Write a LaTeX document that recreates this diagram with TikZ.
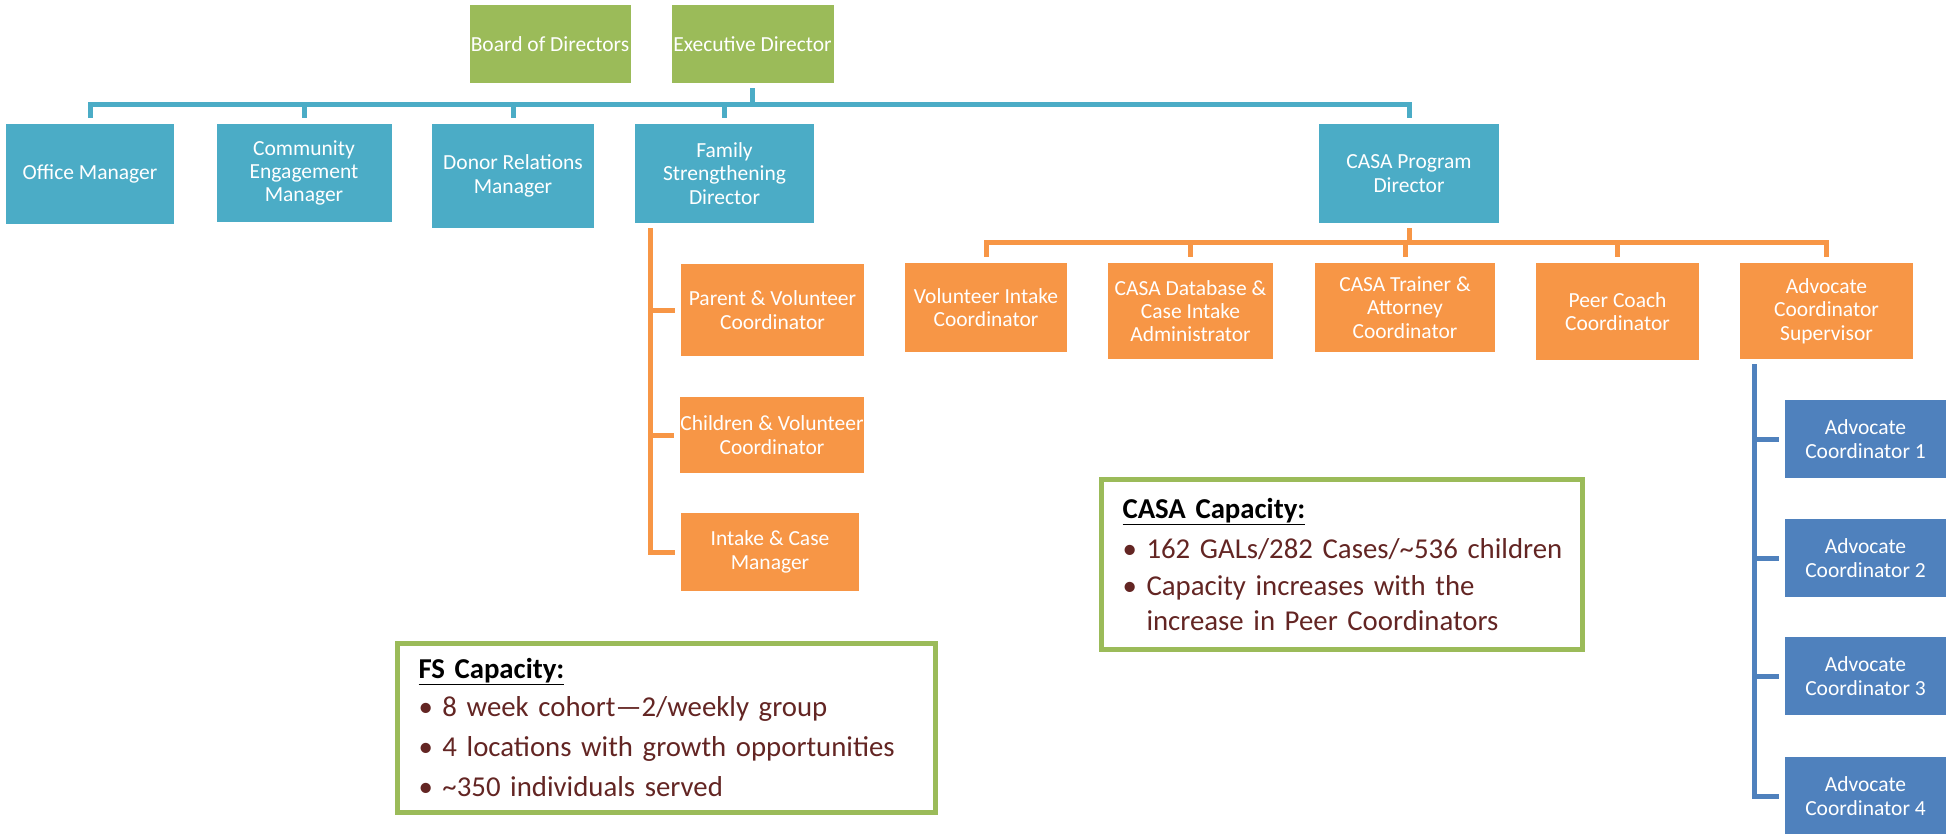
\documentclass[tikz,border=0pt]{standalone}
\usepackage{fontspec}
\setmainfont{Carlito}
\usetikzlibrary{calc}
\definecolor{C0}{RGB}{75,172,198}
\definecolor{C1}{RGB}{247,150,70}
\definecolor{C2}{RGB}{155,187,89}
\definecolor{C3}{RGB}{79,129,189}
\definecolor{C4}{RGB}{99,37,35}
\newcommand{\capitem}[1]{\mbox{\makebox[24pt][l]{\textbullet}#1}}

\begin{document}
\begin{tikzpicture}[x=1pt,y=-1pt,
  box/.style={fill=#1,text=white,align=center,inner sep=0pt,
    font=\fontsize{21.5}{23.3}\selectfont},
  link/.style={draw=#1,line width=5pt,shorten <=5pt,shorten >=6pt},
  capbox/.style={draw=C2,line width=5pt,anchor=north west,align=left,
    inner xsep=21pt,inner ysep=0pt,text=C4,
    font=\fontsize{28.8}{35}\selectfont}]

  \useasboundingbox (0,0) rectangle (1950,833);

  % Board and executive director.
  \node[box=C2,minimum width=161pt,minimum height=78pt] (board) at (550,44) {Board of Directors};
  \node[box=C2,minimum width=162pt,minimum height=78pt] (exec) at (752.5,44) {Executive Director};

  % First row under the executive director.
  \node[box=C0,minimum width=168pt,minimum height=100pt] (office) at (90,174) {Office Manager};
  \node[box=C0,minimum width=175pt,minimum height=98pt] (community) at (304,173) {Community\\Engagement\\Manager};
  \node[box=C0,minimum width=162pt,minimum height=104pt] (donor) at (513,176) {Donor Relations\\Manager};
  \node[box=C0,minimum width=179pt,minimum height=99pt] (fsd) at (724.5,173.5) {Family\\Strengthening\\Director};
  \node[box=C0,minimum width=180pt,minimum height=99pt] (casa) at (1409,173.5) {CASA Program\\Director};

  \foreach \n in {office,community,donor,fsd,casa}
    \draw[link=C0] (exec.south) -- ++(0,21) -| (\n.north);

  % Family strengthening staff.
  \node[box=C1,minimum width=183pt,minimum height=92pt] (pvc) at (772.5,310) {Parent \& Volunteer\\Coordinator};
  \node[box=C1,minimum width=182pt,minimum height=76pt] (cvc) at (772,435) {Children \& Volunteer\\Coordinator};
  \node[box=C1,minimum width=178pt,minimum height=78pt] (icm) at (770,552) {Intake \& Case\\Manager};

  \foreach \n in {pvc,cvc,icm}
    \draw[link=C1] ($(fsd.south west)+(16,0)$) |- (\n.west);

  % CASA program staff.
  \node[box=C1,minimum width=162pt,minimum height=89pt] (vic) at (986,307.5) {Volunteer Intake\\Coordinator};
  \node[box=C1,minimum width=165pt,minimum height=96pt] (cdb) at (1190.5,311) {CASA Database \&\\Case Intake\\Administrator};
  \node[box=C1,minimum width=180pt,minimum height=89pt] (ctr) at (1405,307.5) {CASA Trainer \&\\Attorney\\Coordinator};
  \node[box=C1,minimum width=163pt,minimum height=97pt] (pcc) at (1617.5,311.5) {Peer Coach\\Coordinator};
  \node[box=C1,minimum width=173pt,minimum height=96pt] (acs) at (1826.5,311) {Advocate\\Coordinator\\Supervisor};

  \foreach \n in {vic,cdb,ctr,pcc,acs}
    \draw[link=C1] (casa.south) -- ++(0,19.5) -| (\n.north);

  % Advocate coordinators.
  \foreach \i/\y in {1/439,2/558,3/676,4/796}
    \node[box=C3,minimum width=161pt,minimum height=78pt] (ac\i) at (1865.5,\y) {Advocate\\Coordinator \i};

  \foreach \i in {1,...,4}
    \draw[link=C3] ($(acs.south west)+(15,0)$) |- (ac\i.west);

  % Capacity notes.
  \node[capbox,minimum width=538pt,minimum height=169pt,text width=496pt] (fscap) at (395,640.5)
    {\textcolor{black}{\underline{\textbf{FS Capacity:}}}\\[3pt]
     \capitem{8 week cohort---2/weekly group}\\[5pt]
     \capitem{4 locations with growth opportunities}\\[5pt]
     \capitem{\textasciitilde350 individuals served}};

  \node[capbox,minimum width=481pt,minimum height=170pt,text width=439pt] (casacap) at (1099,476.5)
    {\textcolor{black}{\underline{\textbf{CASA Capacity:}}}\\[5pt]
     \capitem{162 GALs/282 Cases/\textasciitilde536 children}\\[2pt]
     \capitem{Capacity increases with the}\\
     \mbox{\hspace*{24pt}increase in Peer Coordinators}};

\end{tikzpicture}
\end{document}
